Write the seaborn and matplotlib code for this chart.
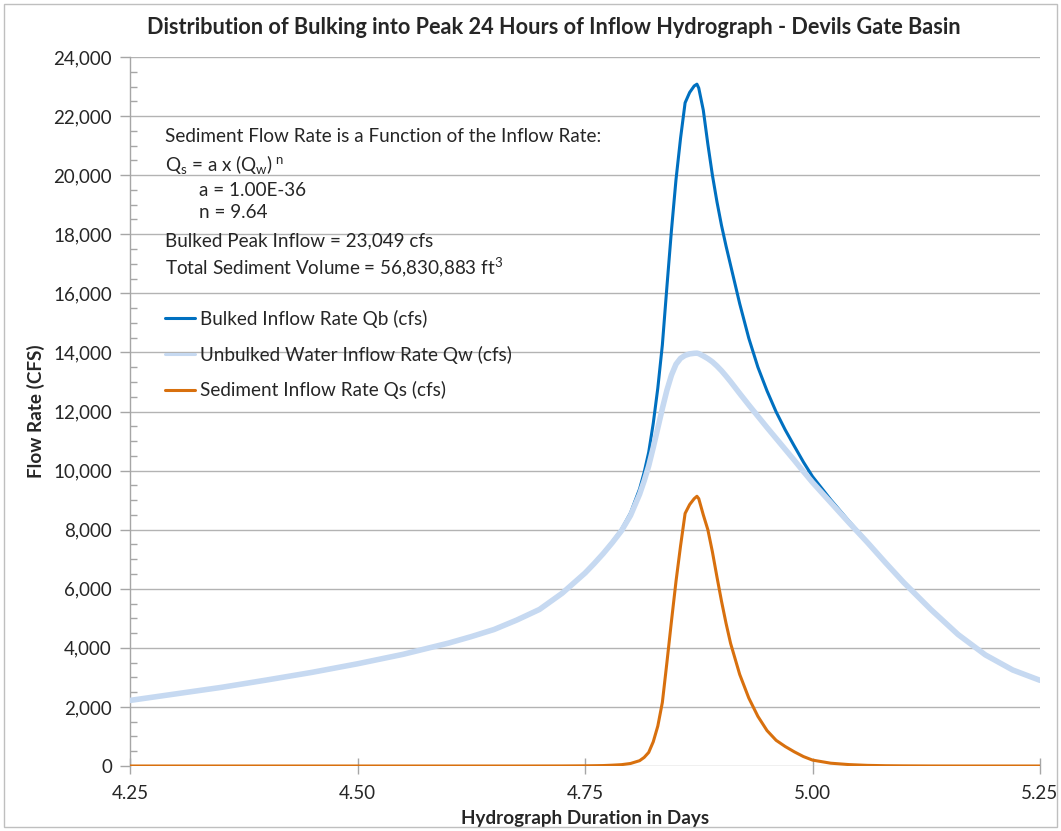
import numpy as np
import pandas as pd
import matplotlib
matplotlib.use("Agg")
import matplotlib.pyplot as plt
import seaborn as sns
from matplotlib.ticker import MultipleLocator, StrMethodFormatter
from matplotlib.patches import Rectangle

# ---------------- data ----------------
days = [4.25, 4.30, 4.35, 4.40, 4.45, 4.50, 4.55, 4.60, 4.625, 4.65, 4.675, 4.70,
        4.725, 4.75, 4.76, 4.77, 4.78, 4.79, 4.80, 4.81, 4.815, 4.82, 4.825, 4.83,
        4.835, 4.84, 4.845, 4.85, 4.855, 4.86, 4.865, 4.87, 4.873, 4.875, 4.88, 4.885,
        4.89, 4.895, 4.90, 4.905, 4.91, 4.92, 4.93, 4.94, 4.95, 4.96, 4.97, 4.98,
        4.99, 5.00, 5.02, 5.04, 5.06, 5.08, 5.10, 5.13, 5.16, 5.19, 5.22, 5.25]

qw = [2220, 2440, 2660, 2910, 3170, 3460, 3780, 4160, 4380, 4620, 4940, 5300,
      5850, 6530, 6850, 7190, 7560, 7960, 8480, 9200, 9650, 10160, 10780, 11440,
      12100, 12720, 13230, 13600, 13800, 13900, 13950, 13970, 13975, 13960, 13880, 13790,
      13680, 13540, 13380, 13200, 13010, 12610, 12220, 11840, 11460, 11090, 10720, 10350,
      9970, 9600, 8920, 8240, 7580, 6890, 6220, 5300, 4450, 3760, 3250, 2900]

qs = [0, 0, 0, 0, 0, 0, 0, 0, 0, 0, 0, 1,
      2, 6, 10, 15, 28, 45, 85, 180, 290, 460, 820, 1350,
      2150, 3500, 4900, 6250, 7450, 8550, 8850, 9050, 9130, 9050, 8500, 8000,
      7250, 6400, 5580, 4830, 4150, 3100, 2300, 1680, 1200, 870, 660, 480,
      320, 200, 95, 48, 22, 10, 5, 1, 0, 0, 0, 0]

qb = [2220, 2440, 2660, 2910, 3170, 3460, 3780, 4160, 4380, 4620, 4940, 5301,
      5852, 6536, 6860, 7205, 7588, 8005, 8565, 9380, 9940, 10620, 11600, 12790,
      14250, 16220, 18130, 19850, 21250, 22450, 22800, 23020, 23080, 22950, 22200, 21050,
      20000, 19100, 18300, 17600, 16950, 15650, 14480, 13500, 12700, 11990, 11380, 10830,
      10290, 9800, 9015, 8290, 7600, 6900, 6225, 5301, 4450, 3760, 3250, 2900]

labels = ["Bulked Inflow Rate Qb (cfs)",
          "Unbulked Water Inflow Rate Qw (cfs)",
          "Sediment Inflow Rate Qs (cfs)"]
x_ticks = [4.25, 4.50, 4.75, 5.00, 5.25]

df = pd.DataFrame({"days": days, "qb": qb, "qw": qw, "qs": qs})

# ---------------- style ----------------
sns.set_style("white")
FONT = "Lato"
plt.rcParams["font.family"] = [FONT, "DejaVu Sans"]
plt.rcParams["mathtext.fontset"] = "custom"
plt.rcParams["mathtext.rm"] = FONT
plt.rcParams["mathtext.it"] = FONT
plt.rcParams["mathtext.bf"] = FONT + ":bold"

GRID = "#B3B3B3"
AXC = "#A6A6A6"
W, H = 1061, 831

fig = plt.figure(figsize=(W / 100, H / 100), dpi=100)
ax = fig.add_axes([130 / W, (H - 766) / H, 910 / W, 709 / H])

sns.lineplot(data=df, x="days", y="qb", ax=ax, color="#0070C0", linewidth=2.2,
             label=labels[0], zorder=3)
sns.lineplot(data=df, x="days", y="qw", ax=ax, color="#C6D9F1", linewidth=4.0,
             label=labels[1], zorder=4)
sns.lineplot(data=df, x="days", y="qs", ax=ax, color="#D8700E", linewidth=2.2,
             label=labels[2], zorder=5)

ax.set_xlim(4.25, 5.25)
ax.set_ylim(0, 24000)
ax.set_xticks(x_ticks)
ax.set_xticklabels([f"{v:.2f}" for v in x_ticks])
ax.yaxis.set_major_locator(MultipleLocator(2000))
ax.yaxis.set_minor_locator(MultipleLocator(500))
ax.yaxis.set_major_formatter(StrMethodFormatter("{x:,.0f}"))

ax.grid(axis="y", which="major", color=GRID, linewidth=1.0, zorder=0)
ax.grid(axis="x", visible=False)
for s in ["top", "right", "bottom"]:
    ax.spines[s].set_visible(False)
ax.spines["left"].set_color(AXC)
ax.spines["left"].set_linewidth(1.0)

ax.tick_params(axis="y", which="major", direction="out", length=7, width=1,
               color=AXC, labelsize=13.5, pad=6, left=True)
ax.tick_params(axis="y", which="minor", direction="in", length=5, width=1,
               color=AXC, left=True)
ax.tick_params(axis="x", which="major", direction="inout", length=11, width=1,
               color=AXC, labelsize=13.5, pad=8, bottom=True)

ax.set_xlabel("Hydrograph Duration in Days", fontsize=13.6, fontweight="bold", labelpad=6)
ax.set_ylabel("Flow Rate (CFS)", fontsize=13.6, fontweight="bold", labelpad=6)

fig.text(554 / W, 1 - 28 / H,
         "Distribution of Bulking into Peak 24 Hours of Inflow Hydrograph - Devils Gate Basin",
         ha="center", va="center", fontsize=15.6, fontweight="bold")

# annotation
fs = 13.6
lines = [
    (165, 137, "Sediment Flow Rate is a Function of the Inflow Rate:"),
    (165, 164, r"Q$_\mathrm{s}$ = a x (Q$_\mathrm{w}$)$^{\ \mathrm{n}}$"),
    (199, 190, "a = 1.00E-36"),
    (199, 213, "n = 9.64"),
    (165, 241, "Bulked Peak Inflow = 23,049 cfs"),
    (165, 267, r"Total Sediment Volume = 56,830,883 ft$^\mathrm{3}$"),
]
for px, py, t in lines:
    fig.text(px / W, 1 - py / H, t, ha="left", va="center", fontsize=fs)

leg = ax.legend(loc="upper left", bbox_to_anchor=((165 - 130) / 910, (766 - 310) / 709),
                frameon=False, fontsize=13.6, handlelength=1.6, handletextpad=0.25,
                labelspacing=0.93, borderaxespad=0, borderpad=0)
for h in leg.get_lines():
    h.set_linewidth(2.2)

fig.patches.append(Rectangle((4 / W, 4 / H), 1 - 8 / W, 1 - 8 / H,
                             transform=fig.transFigure, fill=False,
                             edgecolor="#BFBFBF", linewidth=1.0))

fig.savefig("out.png", dpi=100)
